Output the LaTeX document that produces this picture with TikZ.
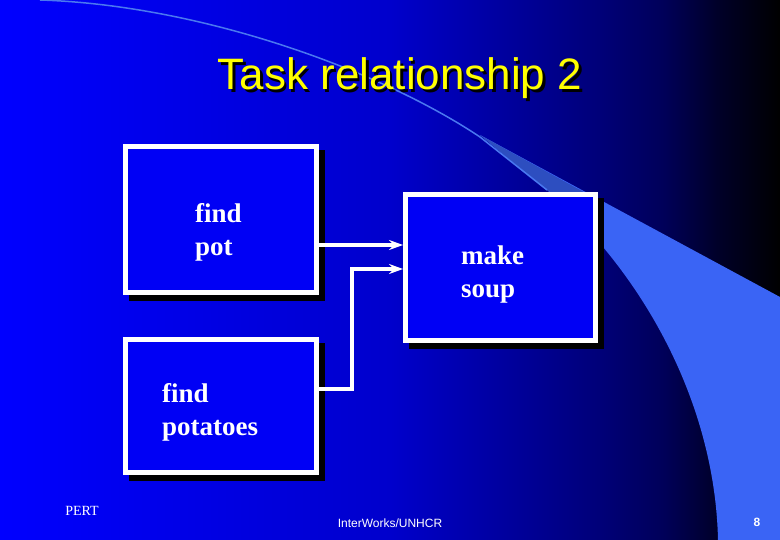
\documentclass[tikz,border=0pt]{standalone}
\usepackage{fontspec}
\setmainfont{Liberation Serif}
\newfontfamily\arialfont{Liberation Sans}
\usetikzlibrary{arrows.meta,positioning,calc,shadows}
\definecolor{slBlue}{HTML}{0000F5}
\definecolor{slSwoosh}{HTML}{3A64F5}
\definecolor{slFold}{HTML}{2D4EC0}
\definecolor{slLine}{HTML}{4A78F0}
\definecolor{slTitle}{HTML}{FFFF00}
\pgfdeclarehorizontalshading{slBg}{100bp}{rgb(0bp)=(0,0,1); rgb(25bp)=(0,0,1);
  rgb(50bp)=(0,0,0.8); rgb(63.5bp)=(0,0,0.47); rgb(67.5bp)=(0,0,0.35);
  rgb(71bp)=(0,0,0.16); rgb(75bp)=(0,0,0); rgb(100bp)=(0,0,0)}
\newcommand{\shadowtext}[1]{\rlap{\raisebox{-2.5pt}{\hspace{2.5pt}\color{black}#1}}#1}

\begin{document}
\begin{tikzpicture}[x=1pt,y=-1pt,
  task/.style={draw=white,fill=slBlue,line width=5pt,minimum width=191pt,
               drop shadow={shadow xshift=6pt,shadow yshift=-6pt,fill=black,draw=black,opacity=1}},
  lbl/.style={text=white,anchor=west,inner sep=0pt,align=left,
              font=\fontsize{27}{33}\selectfont\bfseries},
  link/.style={draw=white,line width=3.2pt,-{Stealth[length=14pt,width=10pt,inset=5pt]}},
  ttl/.style={anchor=base,inner sep=0pt,text=slTitle,font=\arialfont\fontsize{44}{44}\selectfont},
  foot/.style={text=white,anchor=base,inner sep=0pt}]
\useasboundingbox (0,0) rectangle (780,540);
\shade[shading=slBg] (0,0) rectangle (780,540);

% swoosh
\fill[slSwoosh] (480,135) -- (780,297) -- (780,540) -- (718,540)
  .. controls (715,400) and (640,270) .. (547,190) -- cycle;
\fill[slFold] (480,135) -- (600,201) -- (575,206) -- (547,190) -- cycle;
\draw[slLine,line width=1.5pt] (40,0) .. controls (200,5) and (380,70) .. (480,137) -- (547,190);

% title
\node[ttl] (ttl) at (400,90) {\shadowtext{Task relationship 2}};

% tasks
\node[task,minimum height=146pt] (pot)  at (221,219.5) {};
\node[task,minimum height=146pt,minimum width=190pt] (soup) at (500.5,267.5) {};
\node[task,minimum height=133pt] (pots) at (221,406) {};

\node[lbl] (potT)  at (195,232) {find\\pot};
\node[lbl] (soupT) at (461,275) {make\\soup};
\node[lbl] (potsT) at (162,412) {find\\potatoes};

% links
\coordinate (in1)  at ($(soup.west)+(0,-22.5)$);
\coordinate (in2)  at ($(soup.west)+(0,1.5)$);
\coordinate (out2) at ($(pots.east)+(0,-17)$);
\coordinate (bend) at ($(in2)+(-51,0)$);
\draw[link] (pot.east |- in1) -- (in1);
\draw[link] (out2) -| (bend) -- (in2);

% footer
\node[foot,font=\fontsize{14}{14}\selectfont] (pert) at (82,515) {PERT};
\node[foot,font=\arialfont\fontsize{12}{12}\selectfont] (org) at (390,527) {InterWorks/UNHCR};
\node[foot,font=\arialfont\bfseries\fontsize{12}{12}\selectfont] (pg) at (757,526) {8};
\end{tikzpicture}
\end{document}
